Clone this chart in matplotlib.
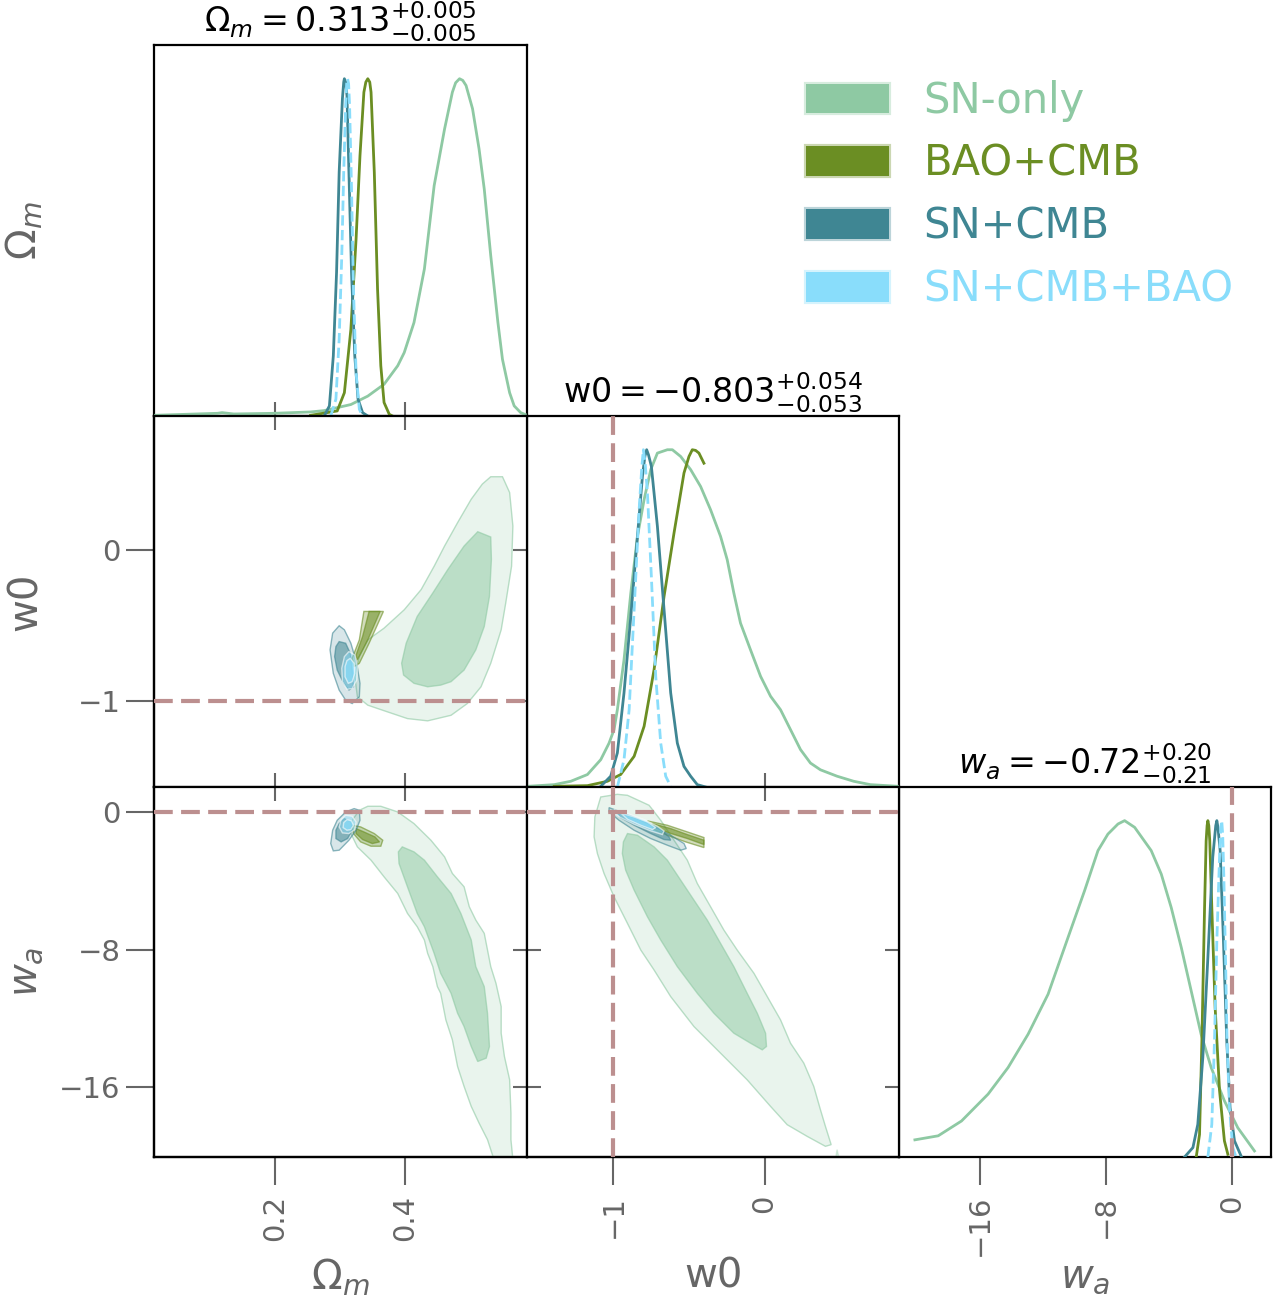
import numpy as np
import matplotlib
matplotlib.use("Agg")
import matplotlib.pyplot as plt
from matplotlib.patches import Patch

# ---- palette ----
SN = "#8EC9A3"      # SN-only
BAO = "#6B8E23"     # BAO+CMB
SNCMB = "#3F8693"   # SN+CMB
ALL = "#89DDFB"     # SN+CMB+BAO
TRUTH = "#BC8F8F"
TICK = "#666666"

LABELS = ["SN-only", "BAO+CMB", "SN+CMB", "SN+CMB+BAO"]
COLORS = [SN, BAO, SNCMB, ALL]

# ------------------------------------------------------------------ data
# 1D marginals (normalised to peak = 1)
om_sn_x = [0.014, 0.112, 0.119, 0.137, 0.199, 0.255, 0.276, 0.317, 0.343, 0.368,
           0.389, 0.399, 0.414, 0.430, 0.445, 0.461, 0.473, 0.478, 0.484, 0.489,
           0.494, 0.504, 0.514, 0.522, 0.532, 0.543, 0.550, 0.561, 0.568, 0.578,
           0.588]
om_sn_y = [0.002, 0.008, 0.010, 0.006, 0.008, 0.012, 0.016, 0.034, 0.059, 0.094,
           0.149, 0.188, 0.277, 0.436, 0.683, 0.851, 0.960, 0.988, 1.000, 0.995,
           0.980, 0.911, 0.792, 0.673, 0.475, 0.277, 0.168, 0.069, 0.030, 0.010,
           0.002]
om_bao_x = [0.255, 0.296, 0.307, 0.317, 0.325, 0.331, 0.337, 0.340, 0.343, 0.346,
            0.348, 0.353, 0.358, 0.363, 0.368, 0.376, 0.381]
om_bao_y = [0.002, 0.015, 0.069, 0.257, 0.525, 0.772, 0.960, 0.990, 1.000, 0.990,
            0.960, 0.723, 0.376, 0.149, 0.040, 0.005, 0.0]
om_sncmb_x = [0.276, 0.284, 0.290, 0.295, 0.299, 0.304, 0.306, 0.307, 0.309, 0.311,
              0.314, 0.318, 0.323, 0.328, 0.335, 0.343]
om_sncmb_y = [0.0, 0.030, 0.178, 0.426, 0.723, 0.941, 0.990, 1.000, 0.990, 0.950,
              0.723, 0.426, 0.178, 0.050, 0.010, 0.0]
om_all_x = [0.286, 0.294, 0.299, 0.303, 0.306, 0.309, 0.3105, 0.312, 0.3135, 0.315,
            0.318, 0.321, 0.325, 0.330, 0.335]
om_all_y = [0.0, 0.050, 0.228, 0.475, 0.723, 0.921, 0.985, 1.000, 0.985, 0.921,
            0.673, 0.376, 0.129, 0.020, 0.0]

w0_sn_x = [-1.568, -1.392, -1.282, -1.172, -1.084, -1.029, -0.996, -0.974, -0.930,
           -0.885, -0.841, -0.797, -0.753, -0.709, -0.643, -0.610, -0.555, -0.489,
           -0.423, -0.357, -0.291, -0.247, -0.203, -0.159, -0.093, -0.026, 0.040,
           0.106, 0.172, 0.238, 0.304, 0.370, 0.480, 0.590, 0.700, 0.888]
w0_sn_y = [0.002, 0.007, 0.017, 0.037, 0.081, 0.130, 0.170, 0.229, 0.377, 0.575,
           0.743, 0.852, 0.941, 0.990, 1.000, 1.000, 0.980, 0.941, 0.891, 0.822,
           0.743, 0.674, 0.575, 0.486, 0.407, 0.328, 0.269, 0.229, 0.170, 0.111,
           0.071, 0.051, 0.032, 0.017, 0.007, 0.002]
w0_bao_x = [-1.392, -1.172, -1.040, -0.952, -0.863, -0.797, -0.731, -0.665, -0.599,
            -0.533, -0.500, -0.478, -0.456, -0.434, -0.401]
w0_bao_y = [0.002, 0.004, 0.017, 0.037, 0.091, 0.180, 0.348, 0.565, 0.753, 0.931,
            0.980, 1.000, 0.998, 0.990, 0.960]
w0_sncmb_x = [-1.084, -1.018, -0.974, -0.930, -0.885, -0.841, -0.808, -0.792, -0.780,
              -0.768, -0.749, -0.709, -0.665, -0.621, -0.577, -0.533, -0.489, -0.445,
              -0.390]
w0_sncmb_y = [0.002, 0.032, 0.101, 0.279, 0.506, 0.743, 0.921, 0.980, 1.000, 0.985,
              0.951, 0.773, 0.526, 0.279, 0.130, 0.061, 0.032, 0.007, 0.0]
w0_all_x = [-0.974, -0.930, -0.896, -0.863, -0.830, -0.812, -0.802, -0.790, -0.775,
            -0.749, -0.720, -0.687, -0.654, -0.621]
w0_all_y = [0.0, 0.081, 0.229, 0.526, 0.822, 0.950, 1.000, 0.960, 0.872, 0.625,
            0.328, 0.130, 0.032, 0.002]

wa_sn_x = [-20.15, -18.67, -17.19, -15.50, -14.23, -12.96, -11.69, -10.42, -9.37,
           -8.52, -7.89, -7.25, -6.83, -6.19, -5.14, -4.50, -3.87, -3.23, -2.60,
           -1.97, -1.33, -0.49, 0.36, 1.42]
wa_sn_y = [0.051, 0.063, 0.107, 0.187, 0.266, 0.365, 0.484, 0.653, 0.792, 0.911,
           0.960, 0.990, 1.000, 0.980, 0.911, 0.841, 0.742, 0.623, 0.494, 0.365,
           0.266, 0.167, 0.087, 0.018]
wa_bao_x = [-2.28, -2.07, -1.92, -1.75, -1.65, -1.59, -1.54, -1.48, -1.42, -1.29,
            -1.08, -0.80, -0.49, -0.27]
wa_bao_y = [0.0, 0.067, 0.345, 0.742, 0.940, 0.985, 1.000, 0.985, 0.940, 0.742,
            0.446, 0.198, 0.048, 0.008]
wa_sncmb_x = [-3.02, -2.49, -2.18, -1.86, -1.54, -1.23, -1.04, -0.97, -0.90, -0.76,
              -0.55, -0.34, -0.13, 0.15, 0.57]
wa_sncmb_y = [0.0, 0.028, 0.097, 0.296, 0.593, 0.891, 0.985, 1.000, 0.980, 0.911,
              0.643, 0.345, 0.147, 0.048, 0.003]
wa_all_x = [-1.54, -1.29, -1.12, -0.97, -0.80, -0.72, -0.66, -0.60, -0.53, -0.42,
            -0.32, -0.17, 0.04, 0.25]
wa_all_y = [0.0, 0.097, 0.345, 0.643, 0.891, 0.980, 1.000, 0.960, 0.841, 0.593,
            0.345, 0.147, 0.028, 0.0]

# 2D credible regions (outer = 95%, inner = 68%), vertices in data units
# --- Omega_m vs w0
omw0_sn_out = [(0.532, 0.487), (0.550, 0.487), (0.561, 0.382), (0.566, 0.160),
               (0.564, -0.107), (0.555, -0.351), (0.548, -0.529), (0.532, -0.751),
               (0.517, -0.907), (0.496, -1.018), (0.471, -1.096), (0.435, -1.133),
               (0.404, -1.118), (0.373, -1.073), (0.343, -1.029), (0.327, -0.973),
               (0.323, -0.840), (0.330, -0.707), (0.343, -0.596), (0.368, -0.518),
               (0.399, -0.396), (0.425, -0.262), (0.445, -0.107), (0.461, 0.027),
               (0.481, 0.182), (0.502, 0.338), (0.519, 0.438)]
omw0_sn_in = [(0.512, 0.122), (0.532, 0.087), (0.533, -0.062), (0.530, -0.307),
              (0.522, -0.507), (0.509, -0.662), (0.491, -0.796), (0.471, -0.873),
              (0.455, -0.896), (0.435, -0.907), (0.414, -0.884), (0.398, -0.829),
              (0.395, -0.751), (0.402, -0.618), (0.419, -0.440), (0.443, -0.284),
              (0.466, -0.129), (0.491, 0.027)]
omw0_bao_out = [(0.337, -0.407), (0.367, -0.407), (0.345, -0.618), (0.330, -0.751),
                (0.322, -0.773), (0.319, -0.718), (0.330, -0.596)]
omw0_bao_in = [(0.345, -0.407), (0.362, -0.407), (0.343, -0.596), (0.327, -0.729),
               (0.325, -0.696), (0.335, -0.573)]
omw0_sncmb_out = [(0.299, -0.502), (0.307, -0.529), (0.317, -0.618), (0.326, -0.751),
                  (0.331, -0.884), (0.330, -0.973), (0.319, -1.018), (0.309, -0.996),
                  (0.299, -0.929), (0.290, -0.818), (0.285, -0.662), (0.289, -0.551)]
omw0_sncmb_in = [(0.299, -0.607), (0.309, -0.618), (0.316, -0.684), (0.319, -0.796),
                 (0.321, -0.907), (0.314, -0.929), (0.306, -0.884), (0.296, -0.796),
                 (0.292, -0.707), (0.294, -0.640)]
omw0_all_out = [(0.314, -0.673), (0.323, -0.696), (0.327, -0.773), (0.326, -0.862),
                (0.319, -0.918), (0.311, -0.924), (0.304, -0.873), (0.303, -0.784),
                (0.307, -0.707)]
omw0_all_in = [(0.316, -0.718), (0.322, -0.751), (0.323, -0.818), (0.319, -0.873),
               (0.313, -0.884), (0.308, -0.840), (0.308, -0.773), (0.311, -0.733)]

# --- Omega_m vs wa
omwa_sn_out = [(0.330, 0.097), (0.343, 0.329), (0.363, 0.329), (0.389, 0.0),
               (0.414, -0.677), (0.440, -1.644), (0.461, -2.611), (0.473, -3.578),
               (0.491, -4.352), (0.499, -5.513), (0.509, -6.286), (0.522, -7.060),
               (0.532, -8.994), (0.540, -9.961), (0.548, -11.315), (0.548, -12.863),
               (0.553, -14.217), (0.561, -15.571), (0.563, -17.505), (0.563, -19.052),
               (0.566, -20.213), (0.537, -20.213), (0.527, -19.052), (0.514, -18.085),
               (0.502, -17.118), (0.491, -15.957), (0.481, -14.797), (0.473, -13.250),
               (0.463, -12.089), (0.455, -10.542), (0.450, -10.155), (0.443, -8.994),
               (0.435, -8.221), (0.430, -7.447), (0.419, -6.673), (0.404, -5.899),
               (0.389, -4.739), (0.368, -3.772), (0.348, -2.805), (0.327, -2.031),
               (0.317, -1.257), (0.319, -0.484)]
omwa_sn_in = [(0.396, -2.031), (0.414, -2.321), (0.430, -2.805), (0.450, -3.772),
              (0.471, -4.739), (0.486, -5.899), (0.502, -7.447), (0.509, -8.994),
              (0.522, -10.155), (0.527, -11.702), (0.530, -13.636), (0.525, -14.313),
              (0.512, -14.507), (0.502, -13.636), (0.491, -12.476), (0.481, -11.702),
              (0.471, -10.542), (0.455, -9.381), (0.445, -8.221), (0.430, -6.673),
              (0.419, -5.899), (0.404, -4.352), (0.391, -2.998), (0.390, -2.321)]
omwa_bao_out = [(0.319, -0.774), (0.332, -0.870), (0.353, -1.257), (0.366, -1.644),
                (0.363, -1.992), (0.348, -1.992), (0.332, -1.741), (0.321, -1.257)]
omwa_bao_in = [(0.325, -0.967), (0.337, -1.161), (0.354, -1.451), (0.361, -1.741),
               (0.350, -1.838), (0.335, -1.605), (0.325, -1.257)]
omwa_sncmb_out = [(0.322, 0.193), (0.330, 0.097), (0.331, -0.484), (0.325, -1.064),
                  (0.314, -1.644), (0.299, -2.224), (0.290, -2.263), (0.286, -1.838),
                  (0.289, -1.064), (0.296, -0.484), (0.309, 0.0)]
omwa_sncmb_in = [(0.307, -0.387), (0.317, -0.580), (0.319, -1.064), (0.312, -1.547),
                 (0.302, -1.741), (0.294, -1.547), (0.294, -1.064), (0.299, -0.677)]
omwa_all_out = [(0.309, -0.193), (0.319, -0.251), (0.325, -0.580), (0.323, -1.025),
                (0.314, -1.257), (0.304, -1.219), (0.299, -0.870), (0.302, -0.445)]
omwa_all_in = [(0.311, -0.445), (0.318, -0.522), (0.321, -0.774), (0.317, -1.025),
               (0.311, -1.064), (0.305, -0.909), (0.306, -0.619)]

# --- w0 vs wa
w0wa_sn_out = [(-1.084, 0.870), (-0.974, 1.025), (-0.907, 0.967), (-0.764, 0.387),
               (-0.687, -0.484), (-0.599, -1.644), (-0.511, -2.805), (-0.445, -4.159),
               (-0.357, -5.513), (-0.269, -6.867), (-0.181, -8.027), (-0.070, -9.381),
               (0.018, -10.735), (0.106, -12.089), (0.172, -13.443), (0.260, -14.603),
               (0.326, -15.957), (0.370, -17.311), (0.403, -18.279), (0.441, -19.342),
               (0.403, -19.439), (0.282, -18.859), (0.150, -18.182), (0.040, -17.118),
               (-0.115, -15.571), (-0.291, -14.023), (-0.467, -12.476), (-0.621, -10.735),
               (-0.731, -9.188), (-0.819, -8.027), (-0.907, -6.480), (-0.996, -4.932),
               (-1.062, -3.578), (-1.106, -2.418), (-1.128, -1.451), (-1.123, -0.290)]
w0wa_sn_island = [(0.469, -20.21), (0.480, -19.63), (0.496, -20.21)]
w0wa_sn_in = [(-0.907, -1.257), (-0.841, -1.354), (-0.731, -2.031), (-0.643, -2.805),
              (-0.555, -3.965), (-0.467, -5.126), (-0.379, -6.286), (-0.291, -7.640),
              (-0.203, -8.994), (-0.115, -10.542), (-0.048, -11.702), (0.007, -12.863),
              (0.013, -13.636), (-0.015, -13.830), (-0.093, -13.443), (-0.203, -12.863),
              (-0.335, -11.702), (-0.445, -10.542), (-0.577, -8.994), (-0.687, -7.447),
              (-0.775, -6.093), (-0.863, -4.545), (-0.919, -3.385), (-0.941, -2.418),
              (-0.934, -1.741)]
w0wa_bao_out = [(-0.775, -0.522), (-0.643, -0.774), (-0.511, -1.161), (-0.401, -1.489),
                (-0.401, -2.070), (-0.522, -1.741), (-0.643, -1.354), (-0.731, -1.025)]
w0wa_bao_in = [(-0.742, -0.677), (-0.621, -0.967), (-0.511, -1.315), (-0.401, -1.644),
               (-0.401, -1.896), (-0.511, -1.547), (-0.632, -1.219), (-0.720, -0.909)]
w0wa_sncmb_out = [(-1.029, 0.251), (-0.952, 0.0), (-0.841, -0.387), (-0.731, -0.870),
                  (-0.621, -1.354), (-0.533, -1.838), (-0.518, -2.128), (-0.555, -2.224),
                  (-0.643, -1.934), (-0.753, -1.547), (-0.863, -1.064), (-0.963, -0.484),
                  (-1.029, 0.0)]
w0wa_sncmb_in = [(-0.974, 0.0), (-0.885, -0.251), (-0.775, -0.638), (-0.687, -1.025),
                 (-0.632, -1.451), (-0.621, -1.644), (-0.665, -1.605), (-0.753, -1.257),
                 (-0.863, -0.774), (-0.952, -0.329)]
w0wa_all_out = [(-0.996, 0.135), (-0.907, -0.097), (-0.797, -0.445), (-0.709, -0.832),
                (-0.665, -1.103), (-0.676, -1.315), (-0.753, -1.103), (-0.863, -0.716),
                (-0.952, -0.329), (-0.996, -0.058)]
w0wa_all_in = [(-0.952, -0.058), (-0.863, -0.290), (-0.775, -0.580), (-0.720, -0.909),
               (-0.742, -1.025), (-0.819, -0.774), (-0.907, -0.426)]

# axis ranges and ticks
OM_LIM = (0.0144, 0.5877)
W0_LIM = (-1.572, 0.890)
WA_XLIM = (-21.16, 2.47)
WA_YLIM = (-20.06, 1.45)
OM_TICKS = [0.2, 0.4]
W0_TICKS = [-1, 0]
WA_TICKS = [-16, -8, 0]
TRUE_W0, TRUE_WA = -1, 0

TITLES = [r"$\Omega_m = 0.313^{+0.005}_{-0.005}$",
          r"$\mathrm{w0} = -0.803^{+0.054}_{-0.053}$",
          r"$w_a = -0.72^{+0.20}_{-0.21}$"]
NAMES = [r"$\Omega_m$", "w0", r"$w_a$"]

# ------------------------------------------------------------------ figure
W, H = 1282, 1301
fig = plt.figure(figsize=(W / 100, H / 100), dpi=100)
XE = [154, 527, 899, 1271]
YE = [45, 416, 787, 1157]


def panel(r, c):
    ax = fig.add_axes([XE[c] / W, 1 - YE[r + 1] / H,
                       (XE[c + 1] - XE[c]) / W, (YE[r + 1] - YE[r]) / H])
    for s in ax.spines.values():
        s.set_linewidth(1.6)
        s.set_color("black")
    ax.tick_params(which="both", direction="in", length=10, width=1.5,
                   color=TICK, bottom=False, top=False, left=False, right=False,
                   labelbottom=False, labelleft=False)
    return ax


def outer_x(ax, ticks):
    sec = ax.secondary_xaxis("bottom")
    sec.set_xticks(ticks)
    sec.tick_params(direction="out", length=20, width=1.5, color=TICK,
                    labelsize=21, labelcolor=TICK, labelrotation=90, pad=7)
    sec.spines["bottom"].set_linewidth(1.6)


def outer_y(ax, ticks):
    sec = ax.secondary_yaxis("left")
    sec.set_yticks(ticks)
    sec.tick_params(direction="out", length=20, width=1.5, color=TICK,
                    labelsize=21, labelcolor=TICK, pad=4)
    sec.spines["left"].set_linewidth(1.6)


def region(ax, outer, inner, color, a_out, a_in, z, edge=None):
    edge = edge or color
    for pts, a in ((outer, a_out), (inner, a_in)):
        xs, ys = zip(*pts)
        ax.fill(xs, ys, facecolor=color, alpha=a, edgecolor="none", zorder=z)
        ax.fill(xs, ys, facecolor="none", edgecolor=edge, lw=1.0, alpha=0.6,
                zorder=z)


def truth(ax, x=None, y=None):
    kw = dict(color=TRUTH, lw=3, dashes=(4.5, 2), zorder=10)
    if x is not None:
        ax.axvline(x, **kw)
    if y is not None:
        ax.axhline(y, **kw)


# ---- diagonal: 1D marginals
ax00 = panel(0, 0)
ax11 = panel(1, 1)
ax22 = panel(2, 2)
for ax, curves, lim in (
        (ax00, [(om_sn_x, om_sn_y), (om_bao_x, om_bao_y),
                (om_sncmb_x, om_sncmb_y), (om_all_x, om_all_y)], OM_LIM),
        (ax11, [(w0_sn_x, w0_sn_y), (w0_bao_x, w0_bao_y),
                (w0_sncmb_x, w0_sncmb_y), (w0_all_x, w0_all_y)], W0_LIM),
        (ax22, [(wa_sn_x, wa_sn_y), (wa_bao_x, wa_bao_y),
                (wa_sncmb_x, wa_sncmb_y), (wa_all_x, wa_all_y)], WA_XLIM)):
    for (x, y), c, lab in zip(curves, COLORS, LABELS):
        ax.plot(x, y, color=c, lw=2.0, ls="--" if lab == "SN+CMB+BAO" else "-",
                zorder=3, solid_joinstyle="round")
    ax.set_xlim(lim)
    ax.set_ylim(0, 1.1)
    ax.set_yticks([])

# titles sit right on top of the frame, like the getdist style
for ax, t in zip((ax00, ax11, ax22), TITLES):
    ax.text(0.5, 1.003, t, transform=ax.transAxes, ha="center", va="bottom",
            fontsize=24)

ax00.set_xticks(OM_TICKS)
ax00.tick_params(axis="x", bottom=True)
ax11.set_xticks(W0_TICKS)
ax11.tick_params(axis="x", bottom=True)
ax22.set_xticks(WA_TICKS)
ax22.tick_params(axis="x", direction="out", length=20, bottom=True,
                 labelbottom=True, labelsize=21, labelcolor=TICK,
                 labelrotation=90, pad=7)
truth(ax11, x=TRUE_W0)
truth(ax22, x=TRUE_WA)

# ---- Omega_m vs w0
ax10 = panel(1, 0)
region(ax10, omw0_sn_out, omw0_sn_in, SN, 0.19, 0.5, 2)
region(ax10, omw0_bao_out, omw0_bao_in, BAO, 0.3, 0.55, 3)
region(ax10, omw0_sncmb_out, omw0_sncmb_in, SNCMB, 0.2, 0.55, 4)
region(ax10, omw0_all_out, omw0_all_in, ALL, 0.45, 0.7, 5, edge="white")
ax10.set_xlim(OM_LIM)
ax10.set_ylim(W0_LIM)
ax10.set_xticks(OM_TICKS)
ax10.set_yticks(W0_TICKS)
ax10.tick_params(bottom=True, top=True, right=True)
outer_y(ax10, W0_TICKS)
truth(ax10, y=TRUE_W0)

# ---- Omega_m vs wa
ax20 = panel(2, 0)
region(ax20, omwa_sn_out, omwa_sn_in, SN, 0.19, 0.5, 2)
region(ax20, omwa_bao_out, omwa_bao_in, BAO, 0.3, 0.55, 3)
region(ax20, omwa_sncmb_out, omwa_sncmb_in, SNCMB, 0.2, 0.55, 4)
region(ax20, omwa_all_out, omwa_all_in, ALL, 0.45, 0.7, 5, edge="white")
ax20.set_xlim(OM_LIM)
ax20.set_ylim(WA_YLIM)
ax20.set_xticks(OM_TICKS)
ax20.set_yticks(WA_TICKS)
ax20.tick_params(top=True, right=True)
outer_x(ax20, OM_TICKS)
outer_y(ax20, WA_TICKS)
truth(ax20, y=TRUE_WA)

# ---- w0 vs wa
ax21 = panel(2, 1)
region(ax21, w0wa_sn_out, w0wa_sn_in, SN, 0.19, 0.5, 2)
xs, ys = zip(*w0wa_sn_island)
ax21.fill(xs, ys, facecolor=SN, alpha=0.3, edgecolor=SN, lw=1.0, zorder=2)
region(ax21, w0wa_bao_out, w0wa_bao_in, BAO, 0.3, 0.55, 3)
region(ax21, w0wa_sncmb_out, w0wa_sncmb_in, SNCMB, 0.2, 0.55, 4)
region(ax21, w0wa_all_out, w0wa_all_in, ALL, 0.45, 0.7, 5, edge="white")
ax21.set_xlim(W0_LIM)
ax21.set_ylim(WA_YLIM)
ax21.set_xticks(W0_TICKS)
ax21.set_yticks(WA_TICKS)
ax21.tick_params(top=True, left=True, right=True)
outer_x(ax21, W0_TICKS)
truth(ax21, x=TRUE_W0, y=TRUE_WA)

# ---- axis labels
for ax, name in zip((ax00, ax10, ax20), NAMES):
    ax.set_ylabel(name, fontsize=29, color=TICK)
    ax.yaxis.set_label_coords(-0.29, 0.5)
for ax, name in zip((ax20, ax21, ax22), NAMES):
    ax.set_xlabel(name, fontsize=29, color=TICK)
    ax.xaxis.set_label_coords(0.5, -0.27)

# ---- legend
handles = [Patch(facecolor=c, edgecolor=(matplotlib.colors.to_rgba(c, 0.35)),
                 lw=3) for c in COLORS]
leg = fig.legend(handles, LABELS, loc="upper left",
                 bbox_to_anchor=(806 / W, 1 - 80 / H), frameon=False,
                 fontsize=30, handlelength=2.0, handleheight=0.72,
                 handletextpad=0.82, labelspacing=0.5, borderpad=0,
                 borderaxespad=0)
for txt, c in zip(leg.get_texts(), COLORS):
    txt.set_color(c)

fig.savefig("out.png", dpi=100)
